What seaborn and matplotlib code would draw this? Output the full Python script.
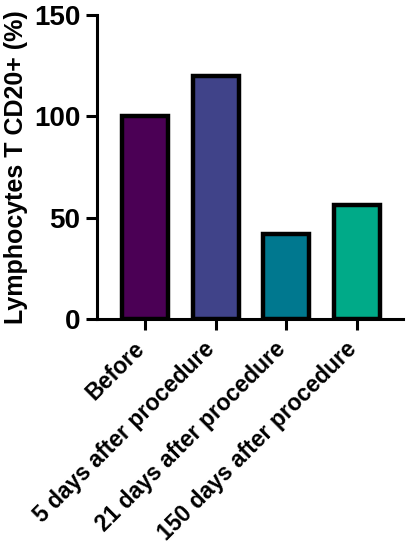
import matplotlib
matplotlib.use("Agg")
import matplotlib.pyplot as plt
import matplotlib.transforms as mtransforms
from matplotlib import font_manager as fm
import seaborn as sns
import pandas as pd

# data
groups = ["Before", "5 days after procedure", "21 days after procedure", "150 days after procedure"]
values = [100, 120, 42, 56]
colors = ["#4B0055", "#404389", "#00788F", "#00AA88"]

# keep the narrow variant out so bold text picks the normal-width face
fm.fontManager.ttflist = [f for f in fm.fontManager.ttflist if "Narrow" not in f.fname]

sns.set_style("white")
plt.rcParams['font.family'] = ['Liberation Sans', 'DejaVu Sans']
plt.rcParams['font.weight'] = 'bold'
plt.rcParams['text.color'] = 'black'
plt.rcParams['axes.labelcolor'] = 'black'
plt.rcParams['xtick.color'] = 'black'
plt.rcParams['ytick.color'] = 'black'

df = pd.DataFrame({"group": groups, "value": values})

fig = plt.figure(figsize=(4.09, 5.50), dpi=100)
ax = fig.add_axes([0.237, 0.42, 0.748, 0.553])

sns.barplot(data=df, x="group", y="value", hue="group", palette=colors,
            legend=False, width=0.65, edgecolor="black", linewidth=3.2,
            saturation=1, ax=ax)

ax.set_xlim(-0.68, 3.65)
ax.set_ylim(0, 150)
ax.set_yticks([0, 50, 100, 150])
ax.set_xlabel("")
ax.set_ylabel("Lymphocytes T CD20+ (%)", fontsize=18, fontweight="bold", labelpad=4)

sns.despine(ax=ax)
for s in ["left", "bottom"]:
    ax.spines[s].set_linewidth(2.2)
    ax.spines[s].set_color("black")

ax.tick_params(axis="both", which="both", direction="out", length=8, width=2.2,
               color="black", labelcolor="black", left=True, bottom=True)
ax.tick_params(axis="y", labelsize=20, pad=4)
ax.tick_params(axis="x", labelsize=16.5, pad=5)
# nudge the rotated labels a few pixels right, as in the reference
shift = mtransforms.ScaledTranslation(4 / 100, 0, fig.dpi_scale_trans)
for lbl in ax.get_xticklabels():
    lbl.set_rotation(45)
    lbl.set_ha("right")
    lbl.set_va("top")
    lbl.set_fontweight("bold")
    lbl.set_transform(lbl.get_transform() + shift)
for lbl in ax.get_yticklabels():
    lbl.set_fontweight("bold")

fig.savefig("out.png", dpi=100)
